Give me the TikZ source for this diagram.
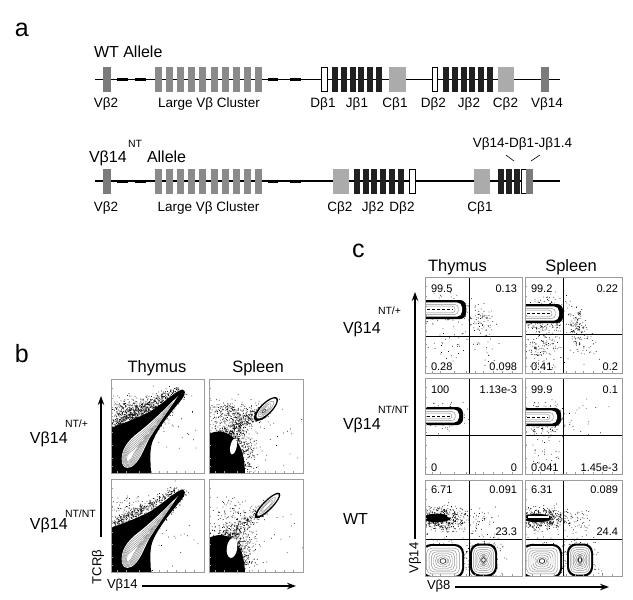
\documentclass[tikz,border=0pt]{standalone}
\usepackage{fontspec}
\setmainfont{Liberation Sans}
\usetikzlibrary{arrows.meta}
\definecolor{vgray}{HTML}{7B7B7B}
\definecolor{cgray}{HTML}{8A8A8A}
\definecolor{lgray}{HTML}{ABABAB}
\definecolor{jblack}{HTML}{202020}
\definecolor{fgray}{HTML}{9C9C9C}
\definecolor{ctr}{HTML}{8C8C8C}
\definecolor{dotc}{HTML}{1A1A1A}
\newcommand\scat[5]{%
  \fill[dotc] \foreach \k in {1,...,#1}{({#2+#4*(rnd+rnd+rnd-1.5)},{#3+#5*(rnd+rnd+rnd-1.5)}) rectangle ++(0.75,0.75)};}
\newcommand\streak[6]{%
  \fill[dotc] \foreach \k in {1,...,#1}{\pgfextra{\pgfmathparse{rnd}\global\let\tpar\pgfmathresult}({#2+(#4-#2)*\tpar+#6*(rnd+rnd-1)},{#3+(#5-#3)*\tpar+#6*(rnd+rnd-1)}) rectangle ++(0.75,0.75)};}
\newcommand\ticks[2]{%
  \foreach \f in {0.07,0.16,0.3,0.43,0.52,0.6,0.7,0.8,0.9}{%
    \draw[fgray,line width=0.5] ({#1*\f},#2) -- ({#1*\f},{#2-1.8});
    \draw[fgray,line width=0.5] (0,{#2*(1-\f)}) -- (1.8,{#2*(1-\f)});}}
\newcommand\cometinner{(11,84) .. controls (9,72) and (16,62) .. (28,53) .. controls (42,42) and (56,28) .. (67,17) .. controls (60,28) and (48,44) .. (38,60) .. controls (32,72) and (28,84) .. (20,88) .. controls (15,90) and (12,88) .. (11,84) -- cycle}
\newcommand\bcomet{%
  \fill[black] (-3,50) .. controls (10,45) and (25,40) .. (40,32) .. controls (55,22) and (64,13) .. (70,11) .. controls (75,10) and (75,15) .. (71,20) .. controls (60,33) and (46,50) .. (41,64) .. controls (38,74) and (40,86) .. (40,97) -- (-3,97) -- cycle;
  \fill[white] \cometinner;
  \foreach \s in {0.88,0.76,0.64,0.52,0.4,0.28}{\draw[ctr,line width=0.45,scale around={\s:(17,80)}] \cometinner;}}
\newcommand\cbar[3]{%
  \fill[black,rounded corners=6] (-8,#1) rectangle (#3,#2);
  \fill[white,rounded corners=5] (-8,{#1+2.4}) rectangle ({#3-4},{#2-2.4});
  \draw[ctr,line width=0.45,rounded corners=4] (-8,{#1+4.4}) rectangle ({#3-7.5},{#2-4.4});
  \draw[ctr,line width=0.45,rounded corners=3] (-8,{#1+6.2}) rectangle ({#3-11},{#2-6.2});
  \draw[black,line width=0.9,dash pattern=on 3pt off 2pt] (2,{(#1+#2)/2}) -- ({#3-13},{(#1+#2)/2});}
\newcommand\cring[4]{%
  \fill[black,rounded corners=9] ({#1-#3},{#2-#4}) rectangle ({#1+#3},{#2+#4});
  \fill[white,rounded corners=8] ({#1-#3+2},{#2-#4+2}) rectangle ({#1+#3-2},{#2+#4-2});
  \foreach \f in {0.86,0.73,0.61,0.5,0.39,0.28}{\draw[ctr,line width=0.45,rounded corners=5] ({#1-(#3-2)*\f},{#2-(#4-2)*\f}) rectangle ({#1+(#3-2)*\f},{#2+(#4-2)*\f});}
  \draw[black,line width=0.6] (#1,#2) ellipse[x radius={(#3-2)*0.16},y radius={(#4-2)*0.16}];}
\newcommand\cframe[2]{%
  \draw[black,line width=0.8] (#1,0) -- (#1,96);
  \draw[black,line width=0.8] (0,#2) -- (97,#2);
  \draw[fgray,line width=0.6] (0,0) rectangle (97,96);
  \ticks{97}{96}}
\begin{document}
\begin{tikzpicture}[x=1pt,y=-1pt,
  txt/.style={inner sep=0pt,outer sep=0pt},
  panel/.style={txt,font=\fontsize{25}{25}\selectfont,anchor=base west},
  allele/.style={txt,font=\fontsize{16}{16}\selectfont,anchor=base west},
  gene/.style={txt,font=\fontsize{13.5}{14}\selectfont,anchor=base},
  ttl/.style={txt,font=\fontsize{16.5}{17}\selectfont,anchor=base},
  rowlab/.style={txt,font=\fontsize{16}{16}\selectfont,anchor=base west},
  supr/.style={txt,font=\fontsize{10.5}{11}\selectfont,anchor=base west},
  numl/.style={txt,font=\fontsize{11}{11}\selectfont,anchor=base west},
  numr/.style={txt,font=\fontsize{11}{11}\selectfont,anchor=base east},
  axl/.style={txt,font=\fontsize{13}{13}\selectfont},
  axarrow/.style={line width=1.1pt,-{Stealth[length=9pt,width=6.5pt]}},
  dna/.style={line width=1.2pt},
  spacer/.style={line width=3pt},
  dbox/.style={fill=white,draw=black,line width=0.7pt}]
\useasboundingbox (0,0) rectangle (633,600);
\pgfmathsetseed{4242}
% ================= panel a
\node[panel] (la) at (15,36) {a};
\node[allele] (wt) at (94,57) {WT Allele};
% row 1
\draw[dna] (95,79.5) -- (560,79.5);
\fill[vgray] (103,67) rectangle (111,92);
\draw[spacer] (117,79.5) -- (128,79.5);
\draw[spacer] (135,79.5) -- (146,79.5);
\foreach \i in {0,...,9}{\fill[cgray] ({155+11.1*\i},67) rectangle ({162+11.1*\i},92);}
\draw[spacer] (268,79.5) -- (278,79.5);
\draw[spacer] (290,79.5) -- (301,79.5);
\filldraw[dbox] (321,67.5) rectangle (327,91.5);
\foreach \i in {0,...,5}{\fill[jblack] ({332+8.8*\i},67) rectangle ({338+8.8*\i},92);}
\fill[lgray] (389,67) rectangle (406,92);
\filldraw[dbox] (432,67.5) rectangle (437.5,91.5);
\foreach \i in {0,...,5}{\fill[jblack] ({443+8.8*\i},67) rectangle ({449+8.8*\i},92);}
\fill[lgray] (498,67) rectangle (514,92);
\fill[vgray] (541,67) rectangle (549,92);
\node[gene] (g1) at (106,107) {Vβ2};
\node[gene] (g2) at (209,107) {Large Vβ Cluster};
\node[gene] (g3) at (323,107) {Dβ1};
\node[gene] (g4) at (357,107) {Jβ1};
\node[gene] (g5) at (395,107) {Cβ1};
\node[gene] (g6) at (433.5,107) {Dβ2};
\node[gene] (g7) at (469,107) {Jβ2};
\node[gene] (g8) at (505.5,107) {Cβ2};
\node[gene] (g9) at (547,107) {Vβ14};
% row 2
\node[allele] (nt1) at (89,162) {Vβ14};
\node[supr] (nt2) at (128,147) {NT};
\node[allele] (nt3) at (147,162) {Allele};
\node[gene] (rear) at (522.5,147.5) {Vβ14-Dβ1-Jβ1.4};
\draw[dna] (95,181) -- (560,181);
\fill[vgray] (103,168.5) rectangle (111,193.5);
\draw[spacer] (117,181) -- (128,181);
\draw[spacer] (135,181) -- (146,181);
\foreach \i in {0,...,9}{\fill[cgray] ({155+11.1*\i},168.5) rectangle ({162+11.1*\i},193.5);}
\draw[spacer] (268,181) -- (278,181);
\draw[spacer] (290,181) -- (301,181);
\fill[lgray] (333,168.5) rectangle (349,193.5);
\foreach \i in {0,...,5}{\fill[jblack] ({354+8.7*\i},168.5) rectangle ({360+8.7*\i},193.5);}
\filldraw[dbox] (409.5,169) rectangle (415,193);
\fill[lgray] (474,168.5) rectangle (490,193.5);
\foreach \i in {0,...,2}{\fill[jblack] ({498+8.2*\i},168.5) rectangle ({504+8.2*\i},193.5);}
\filldraw[dbox] (521.5,169) rectangle (526,193);
\fill[vgray] (526.3,168.5) rectangle (532.5,193.5);
\coordinate (s1a) at (506,155); \coordinate (s1b) at (514,161);
\coordinate (s2a) at (540,155); \coordinate (s2b) at (531,161);
\draw[line width=0.6pt] (s1a) -- (s1b);
\draw[line width=0.6pt] (s2a) -- (s2b);
\node[gene] (h1) at (106,211) {Vβ2};
\node[gene] (h2) at (208.5,211) {Large Vβ Cluster};
\node[gene] (h3) at (340,211) {Cβ2};
\node[gene] (h4) at (373,211) {Jβ2};
\node[gene] (h5) at (402,211) {Dβ2};
\node[gene] (h6) at (480,211) {Cβ1};
% ================= panel b
\node[panel] (lb) at (15,362) {b};
\node[ttl] (bt1) at (157,372) {Thymus};
\node[ttl] (bt2) at (258,372) {Spleen};
\node[rowlab] (br1) at (30,443.5) {Vβ14};
\node[supr] (br1s) at (65,427) {NT/+};
\node[rowlab] (br2) at (30,529.5) {Vβ14};
\node[supr] (br2s) at (65,517) {NT/NT};
% thymus NT/+
\begin{scope}[shift={(111,379)}]
 \begin{scope}\clip (0,0) rectangle (93,94);
  \scat{450}{22}{34}{24}{16}
  \streak{450}{0}{46}{66}{11}{7}
  \scat{150}{12}{72}{18}{26}
  \streak{250}{32}{62}{72}{13}{6}
  \scat{30}{60}{50}{35}{40}
  \bcomet
 \end{scope}
 \draw[fgray,line width=0.6] (0,0) rectangle (93,94);
 \ticks{93}{94}
\end{scope}
% spleen NT/+
\begin{scope}[shift={(209,379)}]
 \begin{scope}\clip (0,0) rectangle (94,94);
  \scat{260}{22}{33}{28}{11}
  \streak{320}{16}{55}{56}{30}{9}
  \scat{1300}{19}{72}{24}{26}
  \scat{30}{60}{55}{35}{38}
  \fill (-2,56) .. controls (8,50) and (18,52) .. (26,60) .. controls (33,68) and (36,80) .. (36,96) -- (-2,96) -- cycle;
  \fill[white,rotate around={-12:(24.5,67.5)}] (24.5,67.5) ellipse[x radius=3.2,y radius=8];
  \fill[rotate around={45:(57,30)}] (57,30) ellipse[x radius=16,y radius=6];
  \fill[white,rotate around={45:(57.5,29.5)}] (57.5,29.5) ellipse[x radius=13.5,y radius=4.5];
  \draw[ctr,line width=0.45,rotate around={45:(57,30)}] (57,30) ellipse[x radius=10.5,y radius=3.4];
  \draw[ctr,line width=0.45,rotate around={45:(56.5,30.5)}] (56.5,30.5) ellipse[x radius=7.5,y radius=2.4];
  \draw[ctr,line width=0.45,rotate around={45:(56,31)}] (56,31) ellipse[x radius=4.8,y radius=1.5];
  \draw[black!70,line width=0.5,rotate around={45:(55,32)}] (55,32) ellipse[x radius=2.5,y radius=0.9];
 \end{scope}
 \draw[fgray,line width=0.6] (0,0) rectangle (94,94);
 \ticks{94}{94}
\end{scope}
% thymus NT/NT
\begin{scope}[shift={(111,479)}]
 \begin{scope}\clip (0,0) rectangle (93,93);
  \scat{200}{22}{36}{24}{16}
  \streak{300}{0}{46}{66}{11}{6}
  \scat{150}{12}{72}{18}{26}
  \streak{250}{32}{62}{72}{13}{6}
  \scat{25}{60}{50}{35}{40}
  \bcomet
 \end{scope}
 \draw[fgray,line width=0.6] (0,0) rectangle (93,93);
 \ticks{93}{93}
\end{scope}
% spleen NT/NT
\begin{scope}[shift={(209,479)}]
 \begin{scope}\clip (0,0) rectangle (94,93);
  \scat{80}{24}{32}{24}{12}
  \streak{240}{16}{58}{55}{30}{8}
  \scat{1100}{20}{72}{23}{26}
  \scat{25}{60}{55}{35}{38}
  \fill (-2,60) .. controls (8,54) and (18,55) .. (26,62) .. controls (33,70) and (36,82) .. (36,96) -- (-2,96) -- cycle;
  \fill[white,rotate around={-8:(23,69)}] (23,69) ellipse[x radius=5.2,y radius=10];
  \fill[rotate around={45:(58.5,26.5)}] (58.5,26.5) ellipse[x radius=17.5,y radius=5];
  \fill[white,rotate around={45:(59,26)}] (59,26) ellipse[x radius=15,y radius=3.5];
  \draw[ctr,line width=0.45,rotate around={45:(58.5,26.5)}] (58.5,26.5) ellipse[x radius=11,y radius=2.5];
  \draw[ctr,line width=0.45,rotate around={45:(58,27)}] (58,27) ellipse[x radius=7.5,y radius=1.6];
 \end{scope}
 \draw[fgray,line width=0.6] (0,0) rectangle (94,93);
 \ticks{94}{93}
\end{scope}
\coordinate (bya) at (101,537); \coordinate (byb) at (101,396);
\draw[axarrow] (bya) -- (byb);
\node[axl,rotate=90] (btcr) at (98,567) {TCRβ};
\node[axl,anchor=west] (bvb) at (107,585) {Vβ14};
\coordinate (bxa) at (142,586); \coordinate (bxb) at (296,586);
\draw[axarrow] (bxa) -- (bxb);
% ================= panel c
\node[panel] (lc) at (352,257) {c};
\node[ttl] (ct1) at (457.5,271) {Thymus};
\node[ttl] (ct2) at (571,271) {Spleen};
\node[rowlab] (cr1) at (343,333.5) {Vβ14};
\node[supr] (cr1s) at (378,314) {NT/+};
\node[rowlab] (cr2) at (343,429.5) {Vβ14};
\node[supr] (cr2s) at (378,413) {NT/NT};
\node[rowlab] (cr3) at (343,524) {WT};
% row1 thymus
\begin{scope}[shift={(425,277)}]
 \begin{scope}\clip (0,0) rectangle (97,96);
  \scat{180}{20}{32}{28}{14}
  \scat{60}{58}{44}{10}{14}
  \scat{35}{22}{70}{24}{24}
  \scat{25}{62}{70}{16}{22}
  \cbar{23}{42}{41}
 \end{scope}
 \cframe{44}{59}
\end{scope}
% row1 spleen
\begin{scope}[shift={(525,277)}]
 \begin{scope}\clip (0,0) rectangle (97,96);
  \scat{320}{18}{37}{26}{17}
  \scat{150}{18}{70}{20}{22}
  \scat{100}{52}{50}{8}{20}
  \scat{40}{60}{72}{14}{20}
  \cbar{27}{46}{38}
 \end{scope}
 \cframe{38}{57}
\end{scope}
% row2 thymus
\begin{scope}[shift={(425,378)}]
 \begin{scope}\clip (0,0) rectangle (97,96);
  \scat{120}{18}{38}{24}{13}
  \cbar{29}{47}{38}
 \end{scope}
 \cframe{44}{57}
\end{scope}
% row2 spleen
\begin{scope}[shift={(525,378)}]
 \begin{scope}\clip (0,0) rectangle (97,96);
  \scat{220}{18}{40}{26}{15}
  \scat{35}{20}{72}{22}{20}
  \scat{12}{60}{40}{20}{30}
  \cbar{30}{48}{36}
 \end{scope}
 \cframe{38}{57}
\end{scope}
% row3 thymus
\begin{scope}[shift={(425,480)}]
 \begin{scope}\clip (0,0) rectangle (97,96);
  \scat{500}{16}{38}{24}{12}
  \fill (12,38) ellipse[x radius=14,y radius=4.2];
  \fill[white] (25,36) ellipse[x radius=3,y radius=1.6];
  \scat{45}{56}{42}{16}{14}
  \scat{300}{19}{80}{27}{21}
  \scat{220}{58}{80}{18}{21}
  \cring{18}{81}{21}{17}
  \cring{58.5}{80}{13.5}{16.5}
 \end{scope}
 \cframe{44}{59}
\end{scope}
% row3 spleen
\begin{scope}[shift={(525,480)}]
 \begin{scope}\clip (0,0) rectangle (97,96);
  \scat{460}{16}{38}{24}{11}
  \fill (12,38) ellipse[x radius=14,y radius=4.2];
  \fill[white] (3,36) rectangle (24,37.8);
  \scat{45}{52}{42}{16}{14}
  \scat{300}{18}{80}{25}{21}
  \scat{220}{55}{80}{17}{21}
  \cring{17}{81}{20}{17}
  \cring{55}{80}{13}{16.5}
 \end{scope}
 \cframe{38}{59}
\end{scope}
% numbers
\node[numl] (n1) at (431,292) {99.5};
\node[numr] (n2) at (517,292) {0.13};
\node[numl] (n3) at (431,370) {0.28};
\node[numr] (n4) at (517,370) {0.098};
\node[numl] (n5) at (531,292) {99.2};
\node[numr] (n6) at (618,292) {0.22};
\node[numl] (n7) at (531,370) {0.41};
\node[numr] (n8) at (618,370) {0.2};
\node[numl] (n9) at (431,393) {100};
\node[numr] (n10) at (517,393) {1.13e-3};
\node[numl] (n11) at (431,471) {0};
\node[numr] (n12) at (517,471) {0};
\node[numl] (n13) at (531,393) {99.9};
\node[numr] (n14) at (618,393) {0.1};
\node[numl] (n15) at (531,471) {0.041};
\node[numr] (n16) at (618,471) {1.45e-3};
\node[numl] (n17) at (431,493) {6.71};
\node[numr] (n18) at (517,493) {0.091};
\node[numr] (n19) at (517,535) {23.3};
\node[numl] (n20) at (531,493) {6.31};
\node[numr] (n21) at (618,493) {0.089};
\node[numr] (n22) at (618,535) {24.4};
\coordinate (cya) at (415,539); \coordinate (cyb) at (415,292);
\draw[axarrow] (cya) -- (cyb);
\node[axl,rotate=90] (cvb14) at (415,558) {Vβ14};
\node[axl,anchor=west] (cvb8) at (427,586) {Vβ8};
\coordinate (cxa) at (455,587); \coordinate (cxb) at (609,587);
\draw[axarrow] (cxa) -- (cxb);
\end{tikzpicture}
\end{document}
